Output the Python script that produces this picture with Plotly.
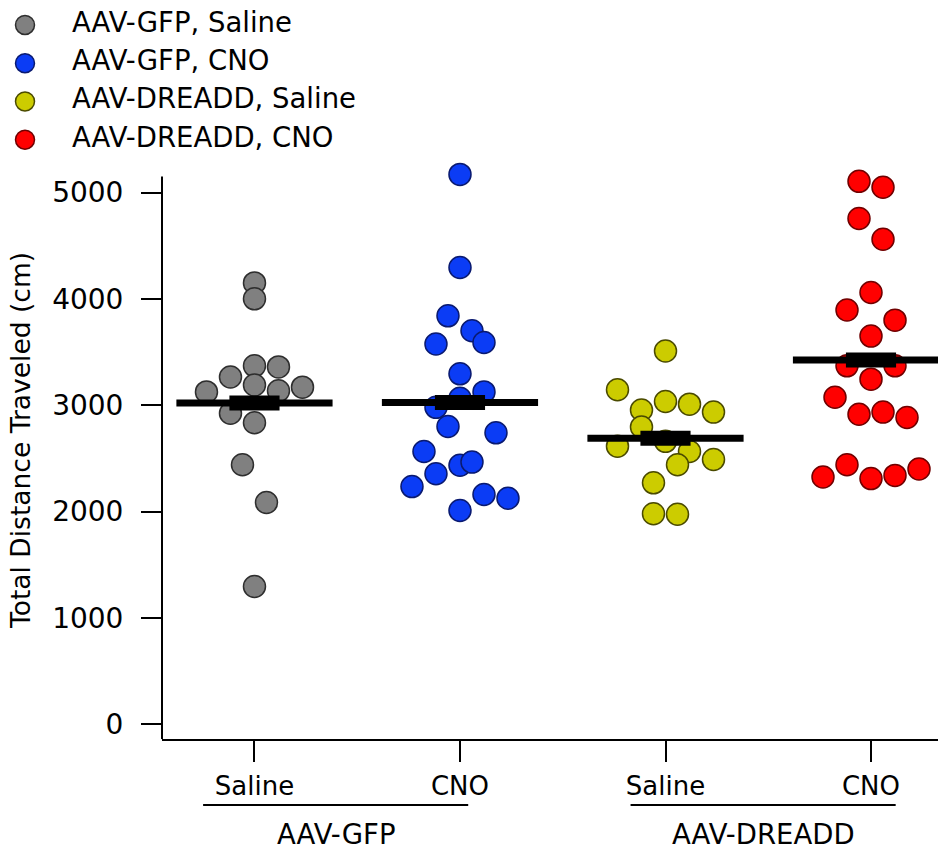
import plotly.graph_objects as go

# ---------------- data ----------------
categories = ["Saline", "CNO", "Saline", "CNO"]
groups = ["AAV-GFP", "AAV-DREADD"]
legend_labels = ["AAV-GFP, Saline", "AAV-GFP, CNO", "AAV-DREADD, Saline", "AAV-DREADD, CNO"]
y_ticks = [0, 1000, 2000, 3000, 4000, 5000]

gfp_saline = [4150, 4000, 3370, 3360, 3265, 3190, 3170, 3125, 3135, 2925, 2835, 2440, 2085, 1295]
gfp_cno = [5170, 4295, 3840, 3700, 3575, 3590, 3295, 3125, 3065, 2980, 2800, 2740, 2565,
           2435, 2465, 2355, 2235, 2160, 2125, 2010]
dreadd_saline = [3510, 3145, 3035, 3010, 2955, 2935, 2795, 2615, 2660, 2565, 2490, 2440,
                 2270, 1980, 1975]
dreadd_cno = [5105, 5050, 4755, 4560, 4060, 3895, 3800, 3650, 3370, 3370, 3245, 3075, 2915,
              2935, 2885, 2325, 2440, 2310, 2340, 2400]
group_means = [3020, 3025, 2690, 3425]

# swarm column offsets (in marker widths)
gfp_saline_swarm = [0, 0, 0, 1, -1, 0, 2, -2, 1, -1, 0, -0.5, 0.5, 0]
gfp_cno_swarm = [0, 0, -0.5, 0.5, -1, 1, 0, 1, 0, -1, -0.5, 1.5, -1.5, 0, 0.5, -1, -2, 1, 2, 0]
dreadd_saline_swarm = [0, -2, 0, 1, -1, 2, -1, -2, 0, 1, 2, 0.5, -0.5, -0.5, 0.5]
dreadd_cno_swarm = [-0.5, 0.5, -0.5, 0.5, 0, -1, 1, 0, -1, 1, 0, -1.5, -0.5, 0.5, 1.5,
                    -2, -1, 0, 1, 2]

series_values = [gfp_saline, gfp_cno, dreadd_saline, dreadd_cno]
series_swarm = [gfp_saline_swarm, gfp_cno_swarm, dreadd_saline_swarm, dreadd_cno_swarm]

# ---------------- style ----------------
FONT = "DejaVu Sans"
fills = ["#808080", "#0b3cf5", "#cccc00", "#ff0000"]
edges = ["#2e2e2e", "#0a1a70", "#4a4a00", "#700000"]
STEP = 0.1168          # one marker width in category units
MEAN_HALF = 0.38
BOX_HALF = 0.122
group_spans = [(-0.25, 1.04), (1.83, 3.12)]
Y_LINE_TOP = 5150
Y_RANGE = [-141, 5281]

W, H = 938, 853
fig = go.Figure()

for i, (vals, sw) in enumerate(zip(series_values, series_swarm)):
    fig.add_trace(go.Scatter(
        x=[i + o * STEP for o in sw], y=vals, mode="markers",
        marker=dict(size=22, color=fills[i], line=dict(color=edges[i], width=1.5)),
        cliponaxis=False, hoverinfo="y", name=legend_labels[i]))

for i, m in enumerate(group_means):
    fig.add_trace(go.Scatter(x=[i - MEAN_HALF, i + MEAN_HALF], y=[m, m], mode="lines",
                             line=dict(color="black", width=7), hoverinfo="skip"))
    fig.add_trace(go.Scatter(x=[i - BOX_HALF, i + BOX_HALF], y=[m, m], mode="lines",
                             line=dict(color="black", width=15), hoverinfo="skip"))

# custom legend on an overlay axis
leg_idx = list(range(len(legend_labels)))
fig.add_trace(go.Scatter(
    x=[25] * len(leg_idx), y=leg_idx, mode="markers", xaxis="x2", yaxis="y2",
    marker=dict(size=19, color=fills, line=dict(color=edges, width=1.5)),
    cliponaxis=False, hoverinfo="skip"))
fig.add_trace(go.Scatter(
    x=[72] * len(leg_idx), y=leg_idx, mode="text", text=legend_labels,
    textposition="middle right", textfont=dict(family=FONT, size=27.5, color="black"),
    xaxis="x2", yaxis="y2", cliponaxis=False, hoverinfo="skip"))

x_dom = [162 / W, 1]
y_dom = [(H - 741) / H, (H - 163) / H]

fig.update_layout(
    width=W, height=H, margin=dict(l=0, r=0, t=0, b=0),
    paper_bgcolor="white", plot_bgcolor="white", showlegend=False,
    font=dict(family=FONT, color="black"),
    xaxis=dict(domain=x_dom, range=[-0.45, 3.326], tickvals=[0, 1, 2, 3], ticktext=categories,
               ticks="outside", ticklen=21, tickwidth=2, tickcolor="black",
               showline=True, linewidth=2, linecolor="black", showgrid=False, zeroline=False,
               tickfont=dict(size=26), ticklabelstandoff=2),
    yaxis=dict(domain=y_dom, range=Y_RANGE, tickvals=y_ticks,
               ticks="outside", ticklen=20, tickwidth=2, tickcolor="black",
               showline=False, showgrid=False, zeroline=False,
               tickfont=dict(size=28), ticklabelstandoff=12),
    xaxis2=dict(domain=[0, 0.5], range=[0, 469], visible=False, anchor="y2"),
    yaxis2=dict(domain=[1 - 160 / H, 1], range=[3.522, -0.652], visible=False, anchor="x2"),
)

annotations = [dict(text="Total Distance Traveled (cm)", xref="paper", yref="paper",
                    x=21 / W, y=1 - 442 / H, textangle=-90, showarrow=False,
                    font=dict(size=26.5), xanchor="center", yanchor="middle")]
shapes = [dict(type="line", xref="paper", yref="y", x0=x_dom[0], x1=x_dom[0],
               y0=Y_RANGE[0], y1=Y_LINE_TOP, line=dict(color="black", width=2))]
for g, (a, b) in zip(groups, group_spans):
    shapes.append(dict(type="line", xref="x", yref="paper", x0=a, x1=b,
                       y0=1 - 807 / H, y1=1 - 807 / H, line=dict(color="black", width=2)))
    annotations.append(dict(text=g, xref="x", yref="paper", x=(a + b) / 2, y=0,
                            showarrow=False, font=dict(size=27.5), xanchor="center",
                            yanchor="bottom", borderpad=0))
fig.update_layout(annotations=annotations, shapes=shapes)

fig.write_html("out.html", config={"displayModeBar": False},
               post_script="document.body.style.margin='0px';")
